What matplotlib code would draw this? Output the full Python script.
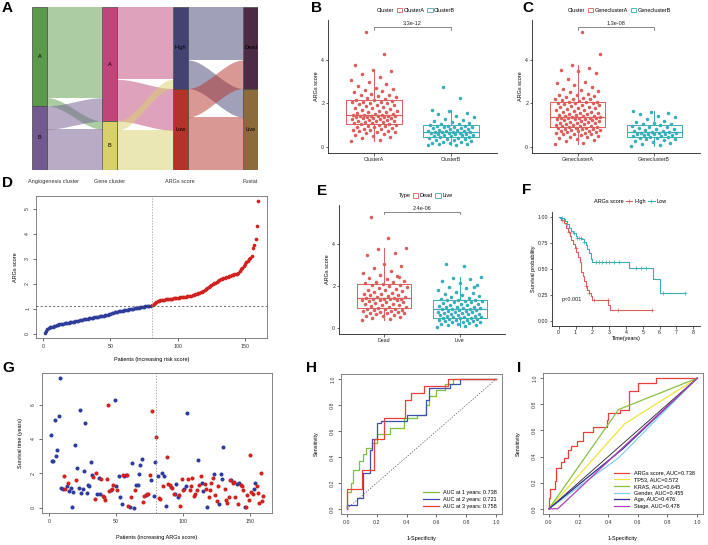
import numpy as np
import matplotlib
matplotlib.use('Agg')
import matplotlib.pyplot as plt
from matplotlib.patches import Rectangle, Patch
from matplotlib.lines import Line2D

# ---------------- data ----------------
# A: alluvial flows (rows = source level, cols = target level)
angio_levels = ['A', 'B']
gene_levels = ['A', 'B']
score_levels = ['High', 'Low']
fustat_levels = ['Dead', 'Live']
flow_angio_gene = [[89, 8], [23, 40]]
flow_gene_score = [[71, 41], [9, 39]]
flow_score_fustat = [[52, 28], [28, 52]]
axis_names = ['Angiogenesis cluster', 'Gene cluster', 'ARGs score', 'Fustat']

# B: ARGs score by angiogenesis cluster
clusterA = [0.25, 0.30, 0.38, 0.45, 0.50, 0.55, 0.60, 0.62, 0.65, 0.68, 0.70, 0.72, 0.75, 0.78, 0.80, 0.83,
            0.85, 0.88, 0.90, 0.93, 0.95, 0.98, 1.00, 1.03, 1.06, 1.08, 1.10, 1.12, 1.14, 1.16, 1.18, 1.20,
            1.22, 1.24, 1.26, 1.28, 1.30, 1.32, 1.33, 1.35, 1.36, 1.38, 1.39, 1.40, 1.41, 1.42, 1.43, 1.44,
            1.46, 1.48, 1.50, 1.52, 1.55, 1.58, 1.60, 1.63, 1.66, 1.70, 1.73, 1.76, 1.80, 1.83, 1.86, 1.90,
            1.93, 1.96, 1.99, 2.02, 2.04, 2.06, 2.08, 2.10, 2.13, 2.16, 2.20, 2.24, 2.28, 2.32, 2.36, 2.40,
            2.45, 2.50, 2.55, 2.60, 2.65, 2.70, 2.80, 2.90, 3.00, 3.08, 3.20, 3.35, 3.50, 3.55, 3.75, 4.28, 5.30]
clusterB = [0.05, 0.08, 0.10, 0.13, 0.15, 0.18, 0.20, 0.22, 0.25, 0.28, 0.30, 0.33, 0.35, 0.38, 0.40, 0.43,
            0.46, 0.48, 0.50, 0.52, 0.53, 0.55, 0.56, 0.58, 0.60, 0.61, 0.62, 0.64, 0.65, 0.66, 0.67,
            0.69, 0.70, 0.72, 0.74, 0.76, 0.78, 0.80, 0.82, 0.84, 0.86, 0.88, 0.90, 0.92, 0.94, 0.96, 0.97,
            1.00, 1.03, 1.06, 1.10, 1.14, 1.18, 1.22, 1.28, 1.35, 1.42, 1.50, 1.55, 1.62, 1.70, 2.25, 2.75]
pval_B = '3.3e-12'

# C: ARGs score by gene cluster
geneA = [0.12, 0.18, 0.25, 0.30, 0.35, 0.40, 0.43, 0.46, 0.50, 0.53, 0.56, 0.58, 0.60, 0.62, 0.64, 0.66,
         0.68, 0.70, 0.72, 0.74, 0.76, 0.78, 0.80, 0.82, 0.83, 0.84, 0.86, 0.87, 0.89, 0.91, 0.93, 0.95,
         0.97, 0.99, 1.01, 1.03, 1.05, 1.07, 1.09, 1.11, 1.13, 1.15, 1.17, 1.19, 1.21, 1.23, 1.25, 1.27,
         1.29, 1.30, 1.31, 1.32, 1.33, 1.34, 1.36, 1.37, 1.39, 1.41, 1.43, 1.45, 1.47, 1.49, 1.51, 1.53,
         1.55, 1.58, 1.61, 1.64, 1.67, 1.70, 1.73, 1.76, 1.79, 1.82, 1.85, 1.88, 1.91, 1.94, 1.97, 2.00,
         2.02, 2.03, 2.04, 2.05, 2.08, 2.12, 2.15, 2.18, 2.20, 2.22, 2.25, 2.28, 2.32, 2.36, 2.40, 2.45,
         2.50, 2.55, 2.60, 2.65, 2.75, 2.85, 2.95, 3.00, 3.10, 3.40, 3.50, 3.55, 3.65, 3.75, 4.28, 5.30]
geneB = [0.02, 0.08, 0.12, 0.18, 0.22, 0.26, 0.30, 0.33, 0.36, 0.39, 0.41, 0.43,
         0.46, 0.48, 0.50, 0.52, 0.54, 0.56, 0.57, 0.59, 0.60, 0.62, 0.63, 0.64,
         0.66, 0.68, 0.70, 0.73, 0.76, 0.79, 0.82, 0.85, 0.88, 0.92, 0.95, 0.98,
         1.02, 1.06, 1.10, 1.15, 1.20, 1.28, 1.35, 1.42, 1.50, 1.55, 1.60, 1.65]
pval_C = '1.3e-08'

# D: sorted ARGs score per patient
risk_scores = [0.05, 0.12, 0.18, 0.22, 0.26, 0.27, 0.28, 0.30, 0.33, 0.35,
               0.37, 0.38, 0.39, 0.40, 0.41, 0.42, 0.43, 0.44, 0.45, 0.46,
               0.47, 0.48, 0.49, 0.50, 0.51, 0.53, 0.54, 0.55, 0.57, 0.58,
               0.59, 0.60, 0.61, 0.62, 0.63, 0.64, 0.65, 0.66, 0.67, 0.68,
               0.69, 0.70, 0.71, 0.72, 0.73, 0.74, 0.75, 0.77, 0.79, 0.80,
               0.82, 0.84, 0.86, 0.88, 0.89, 0.90, 0.91, 0.92, 0.93, 0.94,
               0.95, 0.96, 0.97, 0.98, 0.99, 1.00, 1.01, 1.02, 1.03, 1.04,
               1.05, 1.06, 1.07, 1.08, 1.09, 1.10, 1.10, 1.11, 1.12, 1.12,
               1.15, 1.20, 1.24, 1.27, 1.30, 1.32, 1.34, 1.35, 1.36, 1.37,
               1.38, 1.38, 1.39, 1.40, 1.40, 1.41, 1.42, 1.43, 1.43, 1.44,
               1.45, 1.46, 1.47, 1.48, 1.48, 1.49, 1.50, 1.51, 1.52, 1.53,
               1.54, 1.56, 1.58, 1.60, 1.62, 1.64, 1.66, 1.68, 1.70, 1.75,
               1.78, 1.82, 1.86, 1.90, 1.94, 1.98, 2.02, 2.05, 2.08, 2.12,
               2.15, 2.18, 2.20, 2.22, 2.24, 2.26, 2.28, 2.30, 2.32, 2.34,
               2.36, 2.38, 2.39, 2.40, 2.42, 2.50, 2.58, 2.65, 2.72, 2.80,
               2.86, 2.92, 2.98, 3.05, 3.10, 3.45, 3.55, 3.80, 4.30, 5.30]

# E: ARGs score by status
dead = [0.35, 0.40, 0.45, 0.50, 0.55, 0.58, 0.62, 0.65, 0.68, 0.70, 0.72, 0.75, 0.77, 0.79, 0.81, 0.83,
        0.85, 0.87, 0.89, 0.91, 0.94, 0.97, 1.00, 1.03, 1.06, 1.09, 1.12, 1.15, 1.18, 1.21, 1.24, 1.27,
        1.30, 1.32, 1.34, 1.36, 1.37, 1.38, 1.39, 1.41, 1.43, 1.45, 1.48, 1.51, 1.54, 1.57, 1.60, 1.63,
        1.66, 1.70, 1.74, 1.78, 1.82, 1.86, 1.90, 1.94, 1.98, 2.02, 2.05, 2.07, 2.12, 2.16, 2.20, 2.25,
        2.30, 2.38, 2.45, 2.52, 2.60, 2.70, 2.85, 2.95, 3.05, 3.45, 3.55, 3.75, 3.80, 4.30, 5.30, 2.40]
live = [0.02, 0.08, 0.12, 0.15, 0.18, 0.20, 0.22, 0.25, 0.27, 0.29, 0.31, 0.33, 0.35, 0.37, 0.39, 0.41,
        0.43, 0.44, 0.45, 0.47, 0.49, 0.51, 0.53, 0.55, 0.57, 0.59, 0.61, 0.63, 0.65, 0.67, 0.69, 0.71,
        0.73, 0.75, 0.77, 0.79, 0.81, 0.83, 0.85, 0.87, 0.89, 0.91, 0.93, 0.95, 0.97, 0.99, 1.01, 1.03,
        1.06, 1.09, 1.12, 1.15, 1.18, 1.21, 1.24, 1.27, 1.29, 1.31, 1.32, 1.33, 1.36, 1.40, 1.45, 1.50,
        1.55, 1.60, 1.65, 1.72, 1.80, 1.88, 1.95, 2.05, 2.15, 2.25, 2.30, 2.38, 2.40, 2.95, 3.05, 1.92]
pval_E = '2.4e-06'

# F: Kaplan-Meier steps
km_high_time = [0, 0.15, 0.3, 0.45, 0.55, 0.65, 0.75, 0.85, 0.95, 1.05, 1.15, 1.25, 1.3, 1.35, 1.42,
                1.5, 1.6, 1.7, 1.8, 1.9, 2.0, 2.95, 3.05, 5.55]
km_high_surv = [1.0, 0.97, 0.94, 0.90, 0.86, 0.82, 0.78, 0.74, 0.70, 0.66, 0.62, 0.57, 0.52, 0.47, 0.43,
                0.38, 0.34, 0.30, 0.27, 0.24, 0.20, 0.15, 0.10, 0.10]
km_high_cens = [0.2, 0.6, 1.0, 1.6, 1.8, 2.1, 2.9, 3.5, 5.55]
km_low_time = [0, 0.1, 0.3, 0.4, 0.5, 0.6, 0.75, 0.85, 1.0, 1.1, 1.35, 1.5, 1.6, 1.7, 1.8, 1.9, 2.0,
               4.15, 5.6, 6.0, 7.5]
km_low_surv = [1.0, 0.99, 0.98, 0.96, 0.93, 0.90, 0.87, 0.85, 0.82, 0.80, 0.79, 0.76, 0.73, 0.69, 0.65,
               0.60, 0.565, 0.51, 0.40, 0.27, 0.27]
km_low_cens = [0.2, 0.5, 0.9, 1.1, 1.2, 1.3, 1.5, 2.2, 2.4, 2.6, 2.8, 3.0, 3.3, 3.6, 4.6, 4.9, 5.2, 6.2, 7.5]

# G: survival time per patient (ordered by ARGs score), 1 = dead
surv_time = [4.23, 2.74, 2.70, 5.08, 3.03, 3.35, 5.33, 7.53, 1.15, 1.10,
             1.82, 1.09, 1.25, 1.44, 0.98, 1.17, 0.06, 0.92, 3.64, 1.59,
             2.32, 1.17, 5.71, 0.86, 1.11, 2.13, 4.92, 0.86, 1.34, 1.28,
             2.68, 1.93, 1.80, 0.50, 2.03, 0.82, 1.74, 0.79, 1.65, 0.67,
             0.63, 0.44, 1.69, 6.00, 0.98, 1.05, 1.11, 1.30, 6.28, 1.26,
             1.02, 1.82, 0.63, 0.21, 1.92, 1.82, 1.88, 1.88, 0.11, 0.02,
             0.63, 2.62, 0.00, 1.02, 1.30, 1.30, 1.97, 2.51, 2.84, 0.34,
             0.67, 0.77, 0.79, 0.82, 1.90, 1.63, 5.61, 0.69, 2.68, 4.12,
             1.84, 0.57, 0.52, 2.03, 1.28, 1.86, 0.10, 2.93, 1.38, 1.34,
             1.21, 1.17, 0.82, 0.79, 1.40, 0.63, 0.73, 0.10, 1.69, 1.02,
             1.09, 1.25, 5.52, 1.65, 1.05, 1.25, 1.74, 0.67, 0.79, 1.02,
             2.78, 1.30, 1.86, 1.46, 0.98, 1.40, 1.11, 0.02, 0.63, 1.02,
             1.44, 1.72, 1.97, 0.73, 0.38, 1.25, 0.25, 1.97, 1.67, 3.54,
             1.11, 0.44, 0.29, 0.63, 1.63, 1.63, 1.44, 1.49, 0.63, 1.36,
             0.21, 1.44, 1.34, 1.25, 1.05, 0.04, 0.06, 0.73, 0.44, 3.08,
             0.90, 0.82, 1.07, 1.44, 1.25, 0.86, 0.29, 2.01, 0.40, 0.69]
surv_status = [0, 0, 0, 0, 0, 0, 0, 0, 0, 0,
               1, 1, 0, 1, 0, 0, 0, 0, 0, 1,
               0, 0, 0, 0, 0, 0, 0, 0, 0, 0,
               0, 0, 1, 1, 1, 0, 0, 0, 1, 1,
               1, 1, 1, 1, 1, 0, 1, 1, 0, 0,
               1, 0, 0, 0, 1, 0, 0, 1, 1, 0,
               1, 0, 0, 1, 0, 0, 0, 0, 0, 1,
               1, 0, 1, 1, 1, 0, 1, 0, 0, 1,
               0, 1, 1, 0, 1, 0, 0, 1, 1, 1,
               0, 1, 1, 0, 0, 0, 1, 1, 1, 1,
               0, 0, 0, 1, 1, 1, 1, 1, 1, 1,
               0, 1, 1, 0, 0, 1, 1, 0, 1, 1,
               1, 1, 0, 1, 1, 1, 0, 0, 0, 0,
               1, 1, 1, 1, 1, 0, 1, 1, 1, 0,
               1, 0, 1, 1, 1, 0, 1, 1, 1, 1,
               1, 1, 0, 0, 1, 1, 1, 1, 1, 1]

# H: time-dependent ROC (corner points of step curves)
roc1_fpr = [0, 0.03, 0.04, 0.08, 0.11, 0.13, 0.17, 0.20, 0.29, 0.38, 0.47, 0.53, 0.55, 0.60, 0.66, 0.71, 1.0]
roc1_tpr = [0, 0.13, 0.20, 0.30, 0.37, 0.42, 0.47, 0.51, 0.58, 0.62, 0.70, 0.72, 0.80, 0.87, 0.92, 0.96, 1.0]
roc2_fpr = [0, 0.07, 0.11, 0.155, 0.165, 0.20, 0.23, 0.40, 0.53, 0.55, 0.69, 0.76, 1.0]
roc2_tpr = [0, 0.03, 0.08, 0.28, 0.45, 0.54, 0.66, 0.68, 0.72, 0.84, 0.93, 0.96, 1.0]
roc3_fpr = [0, 0.10, 0.18, 0.25, 0.39, 0.43, 0.52, 0.68, 1.0]
roc3_tpr = [0, 0.15, 0.30, 0.54, 0.70, 0.84, 0.89, 0.95, 1.0]
roc_time_labels = ['AUC at 1 years: 0.738', 'AUC at 2 years: 0.721', 'AUC at 3 years: 0.758']

# I: ROC of ARGs score vs clinical features
args_fpr = [0, 0.005, 0.04, 0.05, 0.08, 0.10, 0.13, 0.15, 0.19, 0.23, 0.30, 0.39, 0.40, 0.48, 0.54, 0.60, 0.72, 1.0]
args_tpr = [0, 0.08, 0.15, 0.21, 0.31, 0.36, 0.39, 0.45, 0.48, 0.52, 0.59, 0.63, 0.68, 0.73, 0.76, 0.90, 0.96, 1.0]
tp53_fpr, tp53_tpr = [0, 0.51, 1.0], [0, 0.65, 1.0]
kras_fpr, kras_tpr = [0, 0.47, 1.0], [0, 0.76, 1.0]
gender_fpr, gender_tpr = [0, 0.47, 1.0], [0, 0.39, 1.0]
age_fpr, age_tpr = [0, 0.50, 1.0], [0, 0.46, 1.0]
stage_fpr, stage_tpr = [0, 0.06, 0.50, 1.0], [0, 0.0, 0.47, 1.0]
clin_labels = ['ARGs score, AUC=0.738', 'TP53, AUC=0.572', 'KRAS, AUC=0.645',
               'Gender, AUC=0.455', 'Age, AUC=0.476', 'Stage, AUC=0.478']

# ---------------- styling ----------------
plt.rcParams['font.family'] = ['Liberation Sans', 'DejaVu Sans']
plt.rcParams['font.size'] = 4

RED = '#DB5E5A'
TEAL = '#38AEB8'
DBLUE = '#2E3D9C'
DRED = '#D0221E'
FS = 4.0    # titles / legends
TS = 3.8    # tick labels

W, H = 708, 545
fig = plt.figure(figsize=(W / 100, H / 100), dpi=100)


def px_axes(l, t, r, b):
    return fig.add_axes([l / W, 1 - b / H, (r - l) / W, (b - t) / H])


def panel_label(x, y, s):
    fig.text(x / W, 1 - y / H, s, fontsize=11, fontweight='bold', va='top', ha='left')


def gg_style(ax):
    for s in ['top', 'right']:
        ax.spines[s].set_visible(False)
    for s in ['left', 'bottom']:
        ax.spines[s].set_linewidth(0.6)
        ax.spines[s].set_color('#222222')
    ax.tick_params(length=1.8, width=0.5, labelsize=TS, pad=1, colors='#222222')


def r_style(ax):
    for s in ax.spines.values():
        s.set_linewidth(0.6)
        s.set_color('#707070')
    ax.tick_params(length=2.2, width=0.5, labelsize=TS, pad=2, colors='#333333')


def r_lim(lo, hi):
    d = (hi - lo) * 0.04
    return lo - d, hi + d


def jitter(n, width=0.3):
    return ((np.arange(n) * 0.618034) % 1 - 0.5) * 2 * width


# ---------------- A: alluvial ----------------
ax = px_axes(32, 7, 258, 170)
nw = 0.21
ax.set_xlim(0, 3 + nw)
total = sum(map(sum, flow_angio_gene))
ax.set_ylim(total, 0)
ax.axis('off')

levels = [angio_levels, gene_levels, score_levels, fustat_levels]
flows = [flow_angio_gene, flow_gene_score, flow_score_fustat]
node_cols = [['#5B9A4B', '#72598F'], ['#C0467A', '#D8D06A'],
             ['#424372', '#B5322B'], ['#4B2B46', '#8B6A3B']]

sizes = [np.array(f).sum(axis=1) for f in flows] + [np.array(flows[-1]).sum(axis=0)]
tops = [np.concatenate([[0], np.cumsum(s)[:-1]]) for s in sizes]

t = np.linspace(0, 1, 60)
ease = 3 * t ** 2 - 2 * t ** 3
for s, f in enumerate(flows):
    f = np.array(f)
    x = s + nw + (1 - nw) * t
    for i in range(f.shape[0]):
        for j in range(f.shape[1]):
            y0 = tops[s][i] + f[i, :j].sum()
            y1 = tops[s + 1][j] + f[:i, j].sum()
            top = y0 + (y1 - y0) * ease
            ax.fill_between(x, top, top + f[i, j], color=node_cols[s][i], alpha=0.5, lw=0)

for c, labs in enumerate(levels):
    for k, lab in enumerate(labs):
        ax.add_patch(Rectangle((c, tops[c][k]), nw, sizes[c][k], facecolor=node_cols[c][k],
                               edgecolor='#444444', lw=0.5))
        ax.text(c + nw / 2, tops[c][k] + sizes[c][k] / 2, lab, ha='center', va='center', fontsize=FS)
    ha = 'left' if c == 0 else 'center'
    xx = -0.06 if c == 0 else c + nw / 2
    ax.annotate(axis_names[c], xy=(xx, 0), xycoords=('data', 'axes fraction'),
                xytext=(0, -8), textcoords='offset points', ha=ha, va='center', fontsize=FS,
                color='#333333')
panel_label(2, 1, 'A')


# ---------------- B, C, E: box + jitter ----------------
def box_panel(box, groups, names, title, pval):
    ax = px_axes(*box)
    gg_style(ax)
    cols = [RED, TEAL]
    for k, (vals, c) in enumerate(zip(groups, cols)):
        pos = k + 1
        ax.boxplot([vals], positions=[pos], widths=0.72, showfliers=False, showcaps=False,
                   boxprops=dict(color=c, lw=0.7), whiskerprops=dict(color=c, lw=0.7),
                   medianprops=dict(color=c, lw=0.9))
        ax.scatter(pos + jitter(len(vals)), vals, s=6.5, color=c, lw=0, zorder=3)
    ytop = max(max(g) for g in groups) + 0.22
    ax.plot([1, 1, 2, 2], [ytop - 0.12, ytop, ytop, ytop - 0.12], color='#555555', lw=0.5)
    ax.text(1.5, ytop + 0.06, pval, ha='center', va='bottom', fontsize=FS, color='#222222')
    ax.set_xlim(0.4, 2.6)
    ax.set_ylim(-0.3, 5.85)
    ax.set_yticks([0, 2, 4])
    ax.set_xticks([1, 2])
    ax.set_xticklabels(names)
    ax.set_ylabel('ARGs score', fontsize=FS, labelpad=1.5)
    handles = [Line2D([], [], ls='none', label=title)] + \
              [Patch(facecolor='white', edgecolor=c, lw=0.6, label=n) for c, n in zip(cols, names)]
    ax.legend(handles=handles, ncol=3, loc='lower center', bbox_to_anchor=(0.5, 1.03),
              frameon=False, fontsize=FS, handlelength=1.0, handleheight=0.8,
              handletextpad=0.3, columnspacing=0.4, borderpad=0)
    return ax


box_panel((328, 20, 497, 153), [clusterA, clusterB], ['ClusterA', 'ClusterB'], 'Cluster', pval_B)
panel_label(311, 1, 'B')
box_panel((532, 20, 700, 153), [geneA, geneB], ['GeneclusterA', 'GeneclusterB'], 'Cluster', pval_C)
panel_label(522, 1, 'C')
box_panel((339, 205, 505, 334), [dead, live], ['Dead', 'Live'], 'Type', pval_E)
panel_label(317, 184, 'E')

# ---------------- D: risk curve ----------------
ax = px_axes(36, 196, 267, 338)
r_style(ax)
scores = np.array(risk_scores)
pid = np.arange(1, len(scores) + 1)
cut = np.median(scores)
low = scores < cut
ax.scatter(pid[low], scores[low], s=7, color=DBLUE, lw=0)
ax.scatter(pid[~low], scores[~low], s=7, color=DRED, lw=0)
ax.axhline(cut, color='#333333', lw=0.5, ls=(0, (3, 3)))
ax.axvline(low.sum() + 0.5, color='#999999', lw=0.5, ls=(0, (2, 2)))
ax.set_xlim(*r_lim(1, len(scores)))
ax.set_ylim(*r_lim(scores.min(), scores.max()))
ax.set_xticks([0, 50, 100, 150])
ax.set_yticks([0, 1, 2, 3, 4, 5])
plt.setp(ax.get_yticklabels(), rotation=90, va='center')
ax.set_xlabel('Patients (increasing risk score)', fontsize=FS, labelpad=6)
ax.set_ylabel('ARGs score', fontsize=FS, labelpad=5)
panel_label(2, 176, 'D')

# ---------------- F: KM ----------------
ax = px_axes(552, 212, 700, 326)
gg_style(ax)
for tm, sv, cens, c in [(km_high_time, km_high_surv, km_high_cens, RED),
                        (km_low_time, km_low_surv, km_low_cens, TEAL)]:
    ax.plot(tm, sv, drawstyle='steps-post', color=c, lw=0.8)
    idx = np.searchsorted(tm, cens, side='right') - 1
    ax.plot(cens, np.array(sv)[idx], ls='none', marker='+', ms=2.2, mew=0.5, color=c)
ax.text(0.15, 0.21, 'p<0.001', fontsize=FS, va='center', ha='left', color='#222222')
ax.set_xlim(-0.4, 8.4)
ax.set_ylim(-0.05, 1.05)
ax.set_xticks(range(9))
ax.set_yticks([0, 0.25, 0.5, 0.75, 1.0])
ax.set_yticklabels(['0.00', '0.25', '0.50', '0.75', '1.00'])
ax.set_xlabel('Time(years)', fontsize=FS, labelpad=1)
ax.set_ylabel('Survival probability', fontsize=FS, labelpad=1.5)
handles = [Line2D([], [], ls='none', label='ARGs score'),
           Line2D([], [], color=RED, lw=0.8, marker='+', ms=2.2, mew=0.5, label='High'),
           Line2D([], [], color=TEAL, lw=0.8, marker='+', ms=2.2, mew=0.5, label='Low')]
ax.legend(handles=handles, ncol=3, loc='lower center', bbox_to_anchor=(0.5, 1.05), frameon=False,
          fontsize=FS, handlelength=1.2, handletextpad=0.3, columnspacing=0.4, borderpad=0)
panel_label(522, 183, 'F')

# ---------------- G: survival status ----------------
ax = px_axes(42, 373, 272, 513)
r_style(ax)
st = np.array(surv_time)
dd = np.array(surv_status) == 1
pid = np.arange(1, len(st) + 1)
ax.scatter(pid[~dd], st[~dd], s=8.5, color=DBLUE, lw=0)
ax.scatter(pid[dd], st[dd], s=8.5, color=DRED, lw=0)
ax.axvline(low.sum(), color='#888888', lw=0.5, ls=(0, (2, 2)))
ax.set_xlim(*r_lim(1, len(st)))
ax.set_ylim(*r_lim(st.min(), st.max()))
ax.set_xticks([0, 50, 100, 150])
ax.set_yticks([0, 2, 4, 6])
plt.setp(ax.get_yticklabels(), rotation=90, va='center')
ax.set_xlabel('Patients (increasing ARGs score)', fontsize=FS, labelpad=8)
ax.set_ylabel('Survival time (years)', fontsize=FS, labelpad=6)
panel_label(2, 361, 'G')

# ---------------- H: time ROC ----------------
ticks = [0, 0.2, 0.4, 0.6, 0.8, 1.0]
ax = px_axes(341, 374, 502, 514)
r_style(ax)
ax.plot([0, 1], [0, 1], color='#555555', lw=0.5, ls=(0, (2, 2)))
for fpr, tpr, c, lab in [(roc1_fpr, roc1_tpr, '#7DC142', roc_time_labels[0]),
                         (roc2_fpr, roc2_tpr, '#3F4FB0', roc_time_labels[1]),
                         (roc3_fpr, roc3_tpr, '#E8403A', roc_time_labels[2])]:
    ax.plot(fpr, tpr, drawstyle='steps-pre', color=c, lw=0.9, label=lab)
ax.set_xlim(*r_lim(0, 1))
ax.set_ylim(*r_lim(0, 1))
ax.set_xticks(ticks)
ax.set_yticks(ticks)
ax.set_xticklabels(['%.1f' % v for v in ticks])
ax.set_yticklabels(['%.1f' % v for v in ticks])
plt.setp(ax.get_yticklabels(), rotation=90, va='center')
ax.set_xlabel('1-Specificity', fontsize=FS, labelpad=8)
ax.set_ylabel('Sensitivity', fontsize=FS, labelpad=8)
ax.legend(loc='lower right', frameon=False, fontsize=FS, handlelength=2.8, labelspacing=0.4,
          borderaxespad=0.5)
panel_label(306, 361, 'H')

# ---------------- I: clinical ROC ----------------
ax = px_axes(543, 373, 703, 514)
r_style(ax)
ax.plot([0, 1], [0, 1], color='#222222', lw=0.6)
clin = [(args_fpr, args_tpr, '#E8403A', 'steps-pre'),
        (tp53_fpr, tp53_tpr, '#F0E43C', 'default'),
        (kras_fpr, kras_tpr, '#86C044', 'default'),
        (gender_fpr, gender_tpr, '#88CFEA', 'default'),
        (age_fpr, age_tpr, '#2B2F8F', 'default'),
        (stage_fpr, stage_tpr, '#B042B8', 'default')]
lines = []
for (fpr, tpr, c, ds), lab in zip(clin, clin_labels):
    ln, = ax.plot(fpr, tpr, color=c, lw=0.9, drawstyle=ds, label=lab)
    lines.append(ln)
ax.set_xlim(*r_lim(0, 1))
ax.set_ylim(*r_lim(0, 1))
ax.set_xticks(ticks)
ax.set_yticks(ticks)
ax.set_xticklabels(['%.1f' % v for v in ticks])
ax.set_yticklabels(['%.1f' % v for v in ticks])
plt.setp(ax.get_yticklabels(), rotation=90, va='center')
ax.set_xlabel('1-Specificity', fontsize=FS, labelpad=8)
ax.set_ylabel('Sensitivity', fontsize=FS, labelpad=8)
ax.legend(handles=lines, loc='lower right', frameon=False, fontsize=FS, handlelength=2.8,
          labelspacing=0.3, borderaxespad=0.5, bbox_to_anchor=(0.98, 0.0))
panel_label(517, 361, 'I')

fig.savefig('out.png', dpi=100)
